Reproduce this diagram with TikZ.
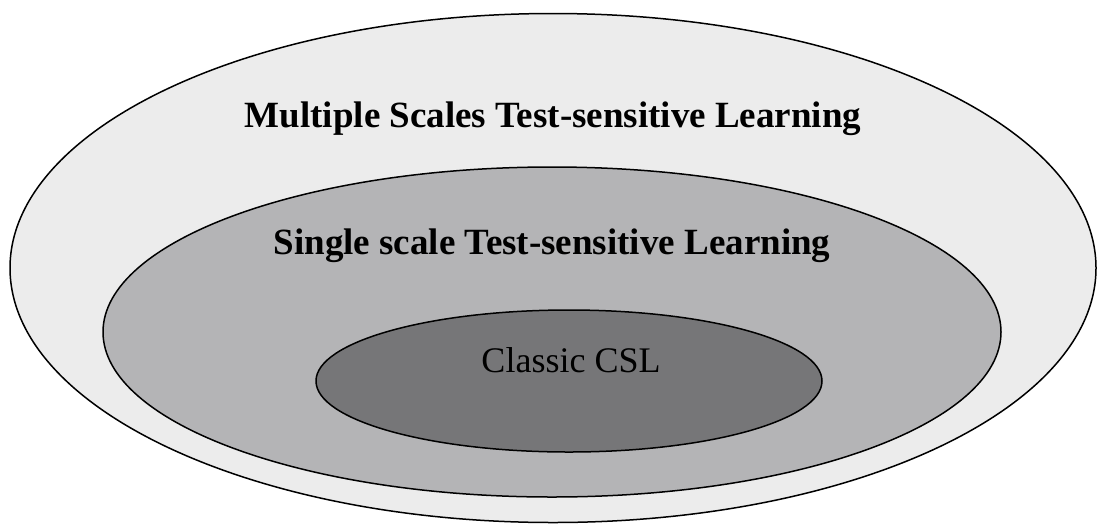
\documentclass[tikz,border=0pt]{standalone}
\usepackage{fontspec}
\setmainfont{Liberation Serif}
\usepackage{xcolor}
\usetikzlibrary{positioning}
\usetikzlibrary{shapes.geometric}

\definecolor{outergrey}{RGB}{236,236,236}
\definecolor{middlegrey}{RGB}{180,180,182}
\definecolor{innergrey}{RGB}{118,118,120}

\tikzset{
  region/.style={ellipse, draw=black, line width=1.5pt, inner sep=0pt},
  label/.style={anchor=base, inner sep=0pt, font=\fontsize{36}{42}\selectfont},
  boldlabel/.style={label, font=\fontsize{37}{44}\selectfont\bfseries}
}

\begin{document}
\begin{tikzpicture}[x=1pt,y=-1pt]
            \useasboundingbox (0,0) rectangle (1100,531);
            % Nested regions
            \node[region, fill=outergrey, minimum width=1086pt, minimum height=509pt] (multi) at (553,268) {};
            \node[region, fill=middlegrey, minimum width=898pt, minimum height=330pt] (single) at (552,332) {};
            \node[region, fill=innergrey, minimum width=506pt, minimum height=142pt] (classic) at (569,381) {};

            % Labels
            \node[boldlabel] (multitext) at (553,127) {Multiple Scales Test-sensitive Learning};
            \node[boldlabel] (singletext) at (552,254) {Single scale Test-sensitive Learning};
            \node[label] (classictext) at (571,372) {Classic CSL};
        \end{tikzpicture}
\end{document}
